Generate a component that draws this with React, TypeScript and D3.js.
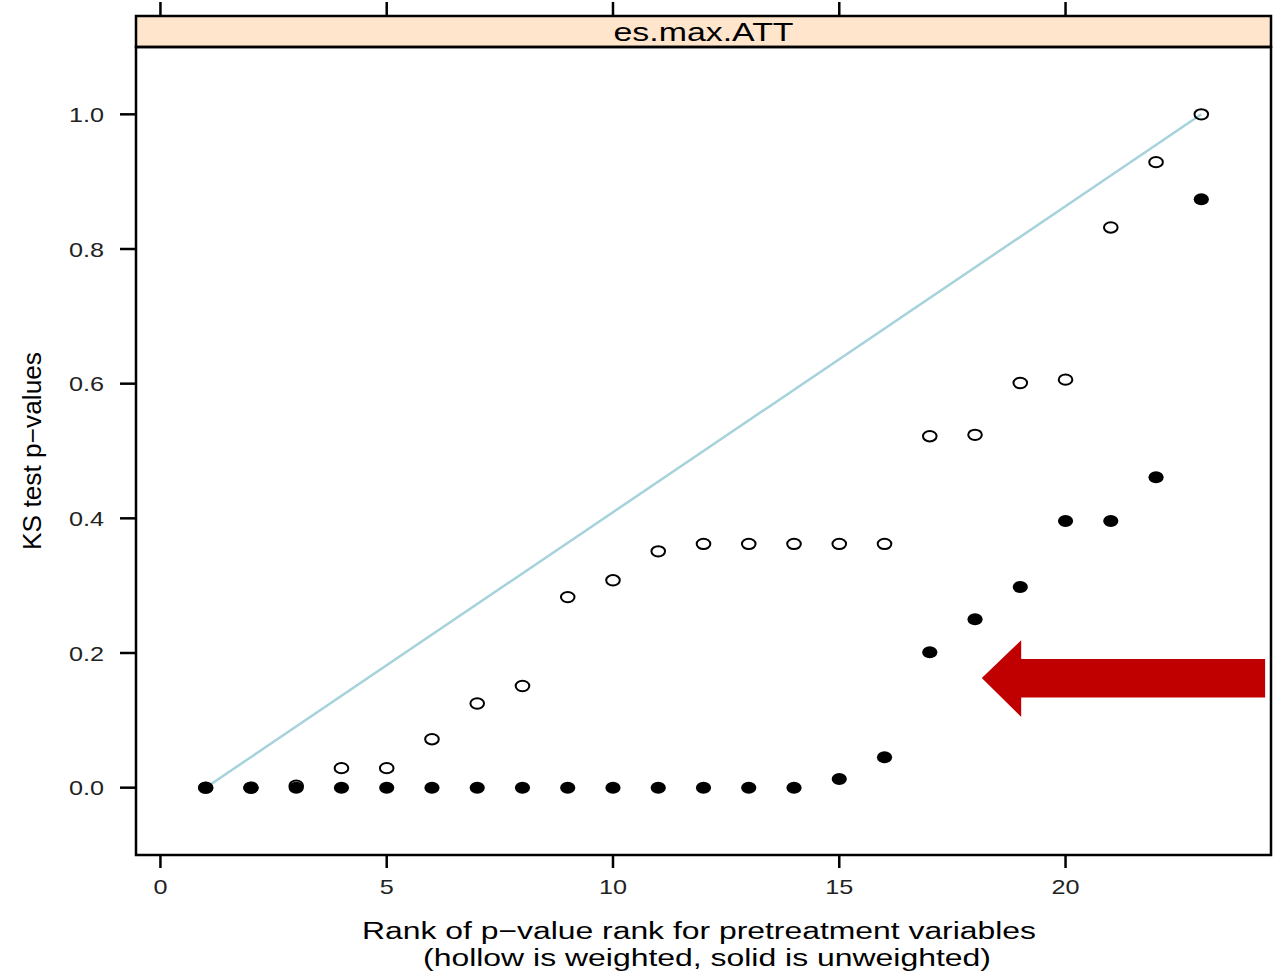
import React, { useEffect, useRef } from 'react';
import * as d3 from 'd3';

// rank of p-value (x) for the 23 pretreatment variables
const ranks = [1, 2, 3, 4, 5, 6, 7, 8, 9, 10, 11, 12, 13, 14, 15, 16, 17, 18, 19, 20, 21, 22, 23];
// hollow points: weighted KS p-values
const weighted = [0, 0, 0.003, 0.029, 0.029, 0.072, 0.125, 0.151, 0.283, 0.308, 0.351, 0.362, 0.362, 0.362, 0.362, 0.362, 0.522, 0.524, 0.601, 0.606, 0.832, 0.929, 1.0];
// solid points: unweighted KS p-values
const unweighted = [0, 0, 0, 0, 0, 0, 0, 0, 0, 0, 0, 0, 0, 0, 0.013, 0.045, 0.201, 0.25, 0.298, 0.396, 0.396, 0.461, 0.874];
// uniform reference line
const refX = [1, 23];
const refY = [0, 1];
const xTicks = [0, 5, 10, 15, 20];
const yTicks = [0, 0.2, 0.4, 0.6, 0.8, 1.0];
const stripLabel = 'es.max.ATT';
const yLabel = 'KS test p\u2212values';
const xLabel1 = 'Rank of p\u2212value rank for pretreatment variables';
const xLabel2 = '(hollow is weighted, solid is unweighted)';
// red annotation arrow, in data units
const arrowTip = [18.15, 0.163];
const arrowHead = [19.02, 0.219, 0.105];
const arrowShaft = [24.41, 0.191, 0.134];

const FONT = '"Liberation Sans", Arial, Helvetica, sans-serif';

function stretch(sel: any, k: number) {
  sel.each(function (this: any) {
    const len = this.getComputedTextLength();
    this.setAttribute('textLength', len * k);
    this.setAttribute('lengthAdjust', 'spacingAndGlyphs');
  });
}

export default function App() {
  const ref = useRef<SVGSVGElement>(null);

  useEffect(() => {
    const svg = d3.select(ref.current);
    svg.selectAll('*').remove();

    const left = 136, right = 1271, stripTop = 16, top = 47, bottom = 855;

    const x = d3.scaleLinear().domain([-0.54, 24.54]).range([left, right]);
    const y = d3.scaleLinear().domain([-0.1, 1.1]).range([bottom, top]);

    // strip
    svg.append('rect')
      .attr('x', left).attr('y', stripTop)
      .attr('width', right - left).attr('height', top - stripTop)
      .attr('fill', '#ffe5cc').attr('stroke', '#000').attr('stroke-width', 2.5);
    svg.append('text')
      .attr('x', (left + right) / 2).attr('y', 41)
      .attr('text-anchor', 'middle')
      .attr('font-family', FONT).attr('font-size', 26)
      .attr('textLength', 180).attr('lengthAdjust', 'spacingAndGlyphs')
      .text(stripLabel);

    // reference line
    const line = d3.line<number>().x((d, i) => x(refX[i])).y(d => y(d));
    svg.append('path')
      .attr('d', line(refY))
      .attr('fill', 'none').attr('stroke', '#a6d2dc').attr('stroke-width', 2.5);

    // solid points
    svg.append('g').selectAll('ellipse')
      .data(unweighted)
      .enter()
      .append('ellipse')
      .attr('cx', (d, i) => x(ranks[i]))
      .attr('cy', d => y(d))
      .attr('rx', 7.6).attr('ry', 6)
      .attr('fill', '#000');

    // hollow points
    svg.append('g').selectAll('ellipse')
      .data(weighted)
      .enter()
      .append('ellipse')
      .attr('cx', (d, i) => x(ranks[i]))
      .attr('cy', d => y(d))
      .attr('rx', 6.8).attr('ry', 5.2)
      .attr('fill', 'none').attr('stroke', '#000').attr('stroke-width', 2);

    // panel border
    svg.append('rect')
      .attr('x', left).attr('y', top)
      .attr('width', right - left).attr('height', bottom - top)
      .attr('fill', 'none').attr('stroke', '#000').attr('stroke-width', 2.5);

    // y axis
    const yg = svg.append('g');
    yg.selectAll('line').data(yTicks).enter().append('line')
      .attr('x1', 120).attr('x2', left)
      .attr('y1', d => y(d)).attr('y2', d => y(d))
      .attr('stroke', '#000').attr('stroke-width', 2.5);
    const yt = yg.selectAll('text').data(yTicks).enter().append('text')
      .attr('x', 104).attr('y', d => y(d) + 7.5)
      .attr('text-anchor', 'end')
      .attr('font-family', FONT).attr('font-size', 21).attr('fill', '#222')
      .text(d => d3.format('.1f')(d));
    stretch(yt, 1.2);

    // x axis (bottom labelled, top ticks only)
    const xg = svg.append('g');
    xg.selectAll('line.b').data(xTicks).enter().append('line')
      .attr('x1', d => x(d)).attr('x2', d => x(d))
      .attr('y1', bottom).attr('y2', 868)
      .attr('stroke', '#000').attr('stroke-width', 2.5);
    xg.selectAll('line.t').data(xTicks).enter().append('line')
      .attr('x1', d => x(d)).attr('x2', d => x(d))
      .attr('y1', 2).attr('y2', stripTop)
      .attr('stroke', '#000').attr('stroke-width', 2.5);
    const xt = xg.selectAll('text').data(xTicks).enter().append('text')
      .attr('x', d => x(d)).attr('y', 894)
      .attr('text-anchor', 'middle')
      .attr('font-family', FONT).attr('font-size', 21).attr('fill', '#222')
      .text(d => String(d));
    stretch(xt, 1.2);

    // axis titles
    svg.append('text')
      .attr('transform', 'translate(41,451) rotate(-90)')
      .attr('text-anchor', 'middle')
      .attr('font-family', FONT).attr('font-size', 25)
      .attr('textLength', 198).attr('lengthAdjust', 'spacingAndGlyphs')
      .text(yLabel);

    svg.append('text')
      .attr('x', 699).attr('y', 939)
      .attr('text-anchor', 'middle')
      .attr('font-family', FONT).attr('font-size', 23.5)
      .attr('textLength', 674).attr('lengthAdjust', 'spacingAndGlyphs')
      .text(xLabel1);
    svg.append('text')
      .attr('x', 707).attr('y', 966)
      .attr('text-anchor', 'middle')
      .attr('font-family', FONT).attr('font-size', 23.5)
      .attr('textLength', 568).attr('lengthAdjust', 'spacingAndGlyphs')
      .text(xLabel2);

    // red arrow
    const pts: [number, number][] = [
      [x(arrowTip[0]), y(arrowTip[1])],
      [x(arrowHead[0]), y(arrowHead[1])],
      [x(arrowHead[0]), y(arrowShaft[1])],
      [x(arrowShaft[0]), y(arrowShaft[1])],
      [x(arrowShaft[0]), y(arrowShaft[2])],
      [x(arrowHead[0]), y(arrowShaft[2])],
      [x(arrowHead[0]), y(arrowHead[2])],
    ];
    svg.append('polygon')
      .attr('points', pts.map(p => p.join(',')).join(' '))
      .attr('fill', '#c00000');
  }, []);

  return (
    <svg ref={ref} width={1273} height={974}
      style={{ position: 'absolute', left: 0, top: 0, background: '#fff' }} />
  );
}
